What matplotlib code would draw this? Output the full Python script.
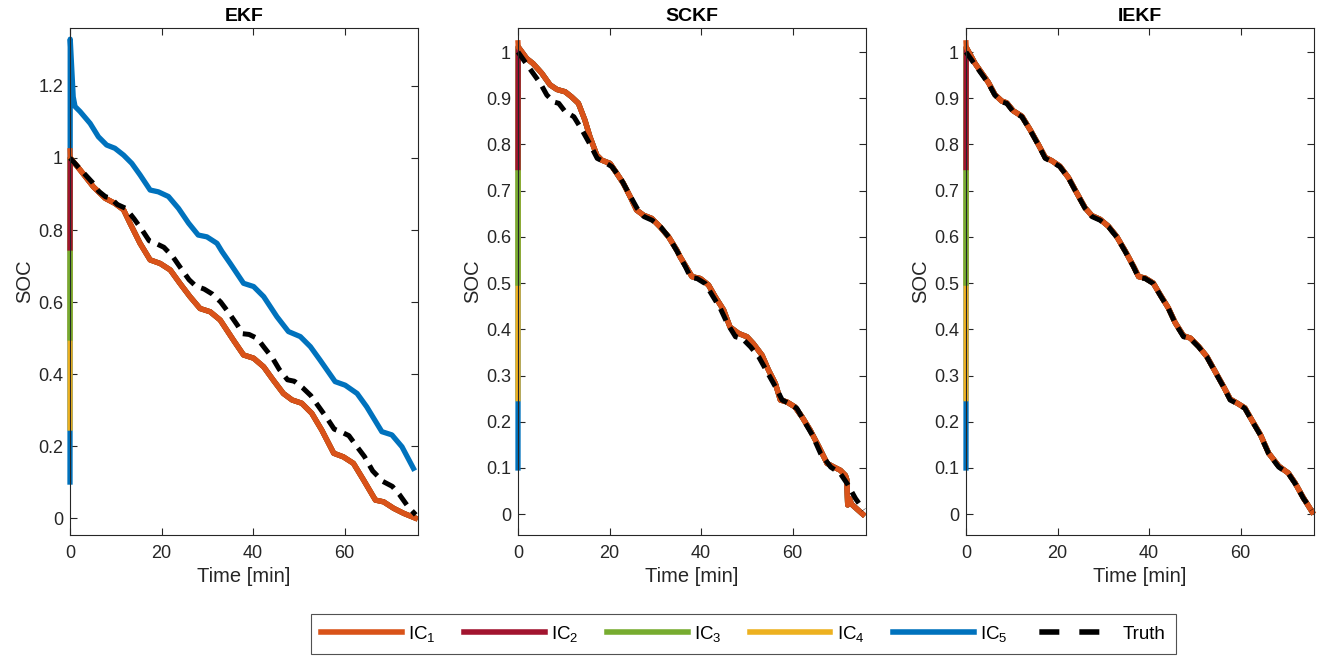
import numpy as np
import matplotlib
matplotlib.use("Agg")
import matplotlib.pyplot as plt
from matplotlib.lines import Line2D
from matplotlib.ticker import FormatStrFormatter

plt.rcParams['font.family'] = ['Liberation Sans', 'DejaVu Sans']
plt.rcParams['mathtext.fontset'] = 'custom'
plt.rcParams['mathtext.rm'] = 'Liberation Sans'
plt.rcParams['mathtext.it'] = 'Liberation Sans:italic'

# ---- data ----
ic_labels = ['IC$_1$', 'IC$_2$', 'IC$_3$', 'IC$_4$', 'IC$_5$']
ic_colors = ['#D95319', '#A2142F', '#77AC30', '#EDB120', '#0072BD']
ic_start = [1.02, 0.75, 0.50, 0.25, 0.10]

# true SOC [min], [-]
t_truth = [0, 2, 4.9, 6.3, 7.8, 8.9, 10.3, 12.2, 14, 15.8, 17.3, 18.7, 20.5, 22.4, 24.2,
           26, 27.5, 29.3, 31.1, 32.9, 34.8, 36.6, 37.7, 39.1, 40.9, 42.4, 44.2, 45.7,
           47.5, 49.0, 50.8, 52.6, 54.4, 56.2, 57.7, 59.1, 60.9, 62.4, 64.3, 66.1, 68.3,
           70.4, 71.9, 73.7, 75.5]
soc_truth = [1.0, 0.972, 0.932, 0.907, 0.892, 0.889, 0.871, 0.860, 0.831, 0.799, 0.770,
             0.763, 0.752, 0.727, 0.694, 0.662, 0.644, 0.636, 0.622, 0.600, 0.568, 0.535,
             0.512, 0.510, 0.499, 0.474, 0.445, 0.413, 0.384, 0.380, 0.362, 0.340, 0.308,
             0.276, 0.247, 0.240, 0.229, 0.203, 0.171, 0.131, 0.102, 0.088, 0.066, 0.034,
             0.009]

# EKF estimates
t_ekf_ic1 = [0, 0.05, 2.2, 5.1, 7.7, 9.8, 11.7, 13.1, 15.3, 17.5, 19.7, 21.9, 24.0, 26.2,
             28.4, 30.6, 32.8, 35.7, 37.9, 40.1, 42.3, 44.4, 46.6, 48.5, 50.6, 52.8, 55.0,
             57.6, 59.7, 61.9, 64.1, 66.7, 68.5, 70.7, 72.9, 75.4]
soc_ekf_ic1 = [1.02, 1.0, 0.967, 0.920, 0.888, 0.874, 0.856, 0.819, 0.763, 0.717, 0.707,
               0.689, 0.652, 0.615, 0.582, 0.573, 0.550, 0.494, 0.453, 0.444, 0.420, 0.383,
               0.346, 0.328, 0.319, 0.291, 0.244, 0.180, 0.170, 0.152, 0.106, 0.050, 0.045,
               0.027, 0.013, 0.0]
t_ekf_ic5 = [0, 0.05, 0.7, 1.1, 2.2, 4.4, 6.2, 8.0, 9.8, 11.7, 13.5, 15.3, 17.5, 19.3, 21.5,
             23.7, 25.9, 28.0, 29.9, 32.1, 33.2, 35.0, 37.9, 40.1, 42.3, 45.2, 47.7, 50.3,
             52.5, 54.6, 57.9, 60.1, 62.7, 64.8, 68.1, 70.3, 72.5, 75.0]
soc_ekf_ic5 = [0.10, 1.33, 1.170, 1.143, 1.129, 1.096, 1.059, 1.036, 1.027, 1.008, 0.985,
               0.953, 0.911, 0.906, 0.893, 0.860, 0.819, 0.786, 0.781, 0.763, 0.740, 0.707,
               0.652, 0.643, 0.615, 0.559, 0.518, 0.504, 0.476, 0.439, 0.379, 0.369, 0.346,
               0.309, 0.240, 0.231, 0.198, 0.138]

# SCKF estimate (all ICs converge onto it)
t_sckf = [0, 0.05, 1.9, 3.3, 5.2, 7.0, 8.5, 10.3, 11.7, 13.2, 14.6, 15.7, 17.2, 18.3, 20.1,
          21.6, 23.0, 24.5, 25.9, 27.4, 29.2, 31.0, 32.9, 34.7, 35.4, 38.0, 39.8, 41.6,
          43.1, 44.9, 46.3, 48.2, 50.0, 51.4, 53.3, 54.7, 56.2, 57.3, 58.7, 60.5, 62.0,
          63.8, 65.7, 67.5, 69.0, 70.4, 71.5, 71.8, 72.0, 72.4, 72.8, 75.3]
soc_sckf = [1.02, 1.011, 0.986, 0.975, 0.954, 0.929, 0.919, 0.914, 0.903, 0.889, 0.853,
            0.817, 0.777, 0.766, 0.759, 0.737, 0.716, 0.687, 0.658, 0.647, 0.640, 0.622,
            0.600, 0.571, 0.557, 0.514, 0.510, 0.496, 0.470, 0.442, 0.405, 0.391, 0.384,
            0.369, 0.344, 0.312, 0.283, 0.247, 0.243, 0.232, 0.211, 0.182, 0.146, 0.110,
            0.102, 0.095, 0.084, 0.075, 0.020, 0.034, 0.022, 0.0]

# IEKF estimate (all ICs converge onto it)
t_iekf = [0, 0.05, 2, 4.9, 6.3, 7.8, 8.9, 10.3, 12.2, 14, 15.8, 17.3, 18.7, 20.5, 22.4,
          24.2, 26, 27.5, 29.3, 31.1, 32.9, 34.8, 36.6, 37.7, 39.1, 40.9, 42.4, 44.2, 45.7,
          47.5, 49.0, 50.8, 52.6, 54.4, 56.2, 57.7, 59.1, 60.9, 62.4, 64.3, 66.1, 68.3,
          70.4, 71.9, 73.7, 75.6]
soc_iekf = [1.02, 1.01, 0.975, 0.934, 0.908, 0.894, 0.890, 0.873, 0.861, 0.832, 0.800,
            0.772, 0.765, 0.753, 0.728, 0.695, 0.663, 0.646, 0.638, 0.623, 0.601, 0.569,
            0.536, 0.514, 0.511, 0.500, 0.475, 0.446, 0.414, 0.386, 0.381, 0.363, 0.341,
            0.309, 0.277, 0.249, 0.241, 0.230, 0.204, 0.172, 0.132, 0.104, 0.089, 0.067,
            0.035, 0.005]

panels = ['EKF', 'SCKF', 'IEKF']

fig = plt.figure(figsize=(13.22, 6.58), dpi=100)
ax_w, ax_h, ax_b = 348 / 1322, 507 / 658, 1 - 535 / 658
lefts = [70 / 1322, 518 / 1322, 966 / 1322]

lw_est = 3.8
for k, name in enumerate(panels):
    ax = fig.add_axes([lefts[k], ax_b, ax_w, ax_h])
    if name == 'EKF':
        curves = [(t_ekf_ic1, soc_ekf_ic1)]
        for s in ic_start[1:4]:
            curves.append(([0] + t_ekf_ic1[1:], [s] + soc_ekf_ic1[1:]))
        curves.append((t_ekf_ic5, soc_ekf_ic5))
    else:
        tt, ss = (t_sckf, soc_sckf) if name == 'SCKF' else (t_iekf, soc_iekf)
        curves = [(tt, ss)]
        for s in ic_start[1:]:
            curves.append(([0] + tt[1:], [s] + ss[1:]))
    # IC5 first so IC1 ends up on top
    for i in range(4, -1, -1):
        ax.plot(curves[i][0], curves[i][1], color=ic_colors[i], lw=lw_est,
                solid_joinstyle='round', clip_on=False)
    ax.plot(t_truth, soc_truth, color='black', lw=3.6, linestyle=(0, (2.6, 1.6)),
            clip_on=False)

    ax.set_xlim(0, 76)
    if name == 'EKF':
        ax.set_ylim(-0.047, 1.361)
        ax.set_yticks(np.arange(0, 1.21, 0.2))
    else:
        ax.set_ylim(-0.045, 1.052)
        ax.set_yticks(np.arange(0, 1.01, 0.1))
    ax.set_xticks([0, 20, 40, 60])
    ax.yaxis.set_major_formatter(FormatStrFormatter('%g'))
    ax.tick_params(direction='in', length=5, width=0.8, top=True, right=True,
                   labelsize=13, colors='#262626')
    ax.tick_params(axis='x', pad=7)
    ax.tick_params(axis='y', pad=5)
    for sp in ax.spines.values():
        sp.set_color('#262626')
        sp.set_linewidth(0.8)
    ax.set_title(name, fontsize=14, fontweight='bold', pad=5)
    ax.set_xlabel('Time [min]', fontsize=14.5, color='#262626', labelpad=4)
    ax.set_ylabel('SOC', fontsize=14.5, color='#262626', labelpad=3)

# legend handles (MATLAB draws the legend dashes longer than in the axes)
handles = [Line2D([], [], color=c, lw=4) for c in ic_colors]
handles.append(Line2D([], [], color='black', lw=4, linestyle=(6.6, (3.6, 3.6))))
leg = fig.legend(handles=handles, labels=ic_labels + ['Truth'], loc='center',
                 bbox_to_anchor=(743.5 / 1322, 1 - 634 / 658), ncol=6, fontsize=13.5,
                 frameon=True, fancybox=False, handlelength=4.3, columnspacing=1.5,
                 handletextpad=0.35, borderpad=0.55, borderaxespad=0)
leg.get_frame().set_edgecolor('#262626')
leg.get_frame().set_linewidth(0.8)

fig.savefig('out.png', dpi=100)
